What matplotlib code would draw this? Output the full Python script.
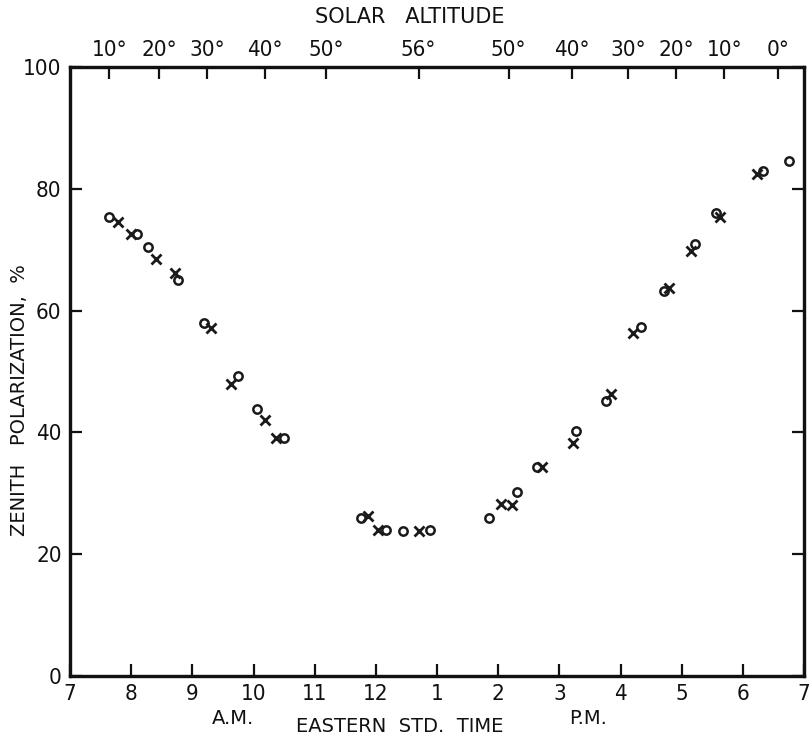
import matplotlib
matplotlib.use("Agg")
import matplotlib.pyplot as plt

# Time of day (decimal hours, 24h clock) and zenith polarization (%)
circle_time = [7.63, 8.09, 8.27, 8.76, 9.19, 9.75, 10.05, 10.50, 11.76, 12.16, 12.45,
               12.88, 13.85, 14.31, 14.63, 15.27, 15.77, 16.33, 16.71, 17.22, 17.56,
               18.33, 18.76]
circle_pol = [75.4, 72.5, 70.4, 65.0, 58.0, 49.3, 43.8, 39.0, 25.9, 24.0, 23.8,
              23.9, 25.9, 30.2, 34.3, 40.2, 45.2, 57.3, 63.3, 70.9, 76.0,
              82.9, 84.5]

cross_time = [7.78, 8.00, 8.40, 8.71, 9.31, 9.63, 10.18, 10.37, 11.88, 12.03, 12.70,
              14.05, 14.22, 14.71, 15.22, 15.85, 16.20, 16.80, 17.15, 17.62, 18.23]
cross_pol = [74.6, 72.6, 68.5, 66.1, 57.2, 48.0, 42.1, 39.1, 26.2, 23.9, 23.8,
             28.2, 28.0, 34.4, 38.3, 46.3, 56.3, 63.7, 69.8, 75.4, 82.5]

hour_ticks = [7, 8, 9, 10, 11, 12, 13, 14, 15, 16, 17, 18, 19]
hour_labels = ["7", "8", "9", "10", "11", "12", "1", "2", "3", "4", "5", "6", "7"]

alt_ticks = [7.64, 8.46, 9.24, 10.18, 11.19, 12.70, 14.17, 15.21, 16.12, 16.91, 17.70, 18.58]
alt_labels = ["10°", "20°", "30°", "40°", "50°", "56°", "50°", "40°", "30°", "20°", "10°", "0°"]

y_ticks = [0, 20, 40, 60, 80, 100]

W, H = 811, 741
fig = plt.figure(figsize=(W / 100, H / 100), dpi=100)
ax = fig.add_axes([70 / W, 1 - 676 / H, (804 - 70) / W, (676 - 67) / H])

ax.plot(circle_time, circle_pol, linestyle="none", marker="o", ms=6.0,
        mfc="none", mec="#1a1a1a", mew=1.8)
ax.plot(cross_time, cross_pol, linestyle="none", marker="x", ms=7.0,
        mec="#1a1a1a", mew=2.0)

ax.set_xlim(7, 19)
ax.set_ylim(0, 100)

for s in ax.spines.values():
    s.set_linewidth(2.3)
    s.set_color("#111111")

fs = 16
ax.set_xticks(hour_ticks)
ax.set_xticklabels(hour_labels, fontsize=fs, fontstretch="condensed")
ax.set_yticks(y_ticks)
ax.set_yticklabels([str(v) for v in y_ticks], fontsize=fs, fontstretch="condensed")
ax.tick_params(axis="both", direction="in", length=8.5, width=1.6, color="#111111",
               labelcolor="#111111")
ax.tick_params(axis="y", right=True, pad=6)
ax.tick_params(axis="x", pad=6)

top = ax.twiny()
top.set_xlim(ax.get_xlim())
top.set_xticks(alt_ticks)
top.set_xticklabels(alt_labels, fontsize=fs, fontstretch="condensed")
top.tick_params(axis="x", direction="in", length=8.5, width=1.6, color="#111111",
                labelcolor="#111111", pad=5)
for s in top.spines.values():
    s.set_linewidth(2.3)
    s.set_color("#111111")

fig.text(410 / W, 1 - 17 / H, "SOLAR   ALTITUDE", ha="center", va="center",
         fontsize=15, color="#111111")
fig.text(400 / W, 1 - 727 / H, "EASTERN  STD.  TIME", ha="center", va="center",
         fontsize=14, color="#111111")
fig.text(233 / W, 1 - 718 / H, "A.M.", ha="center", va="center",
         fontsize=14, color="#111111")
fig.text(588 / W, 1 - 718 / H, "P.M.", ha="center", va="center",
         fontsize=14, color="#111111")
fig.text(20 / W, 1 - 400 / H, "ZENITH   POLARIZATION,  %", ha="center", va="center",
         rotation=90, fontsize=14, color="#111111")

fig.savefig("out.png", dpi=100)
